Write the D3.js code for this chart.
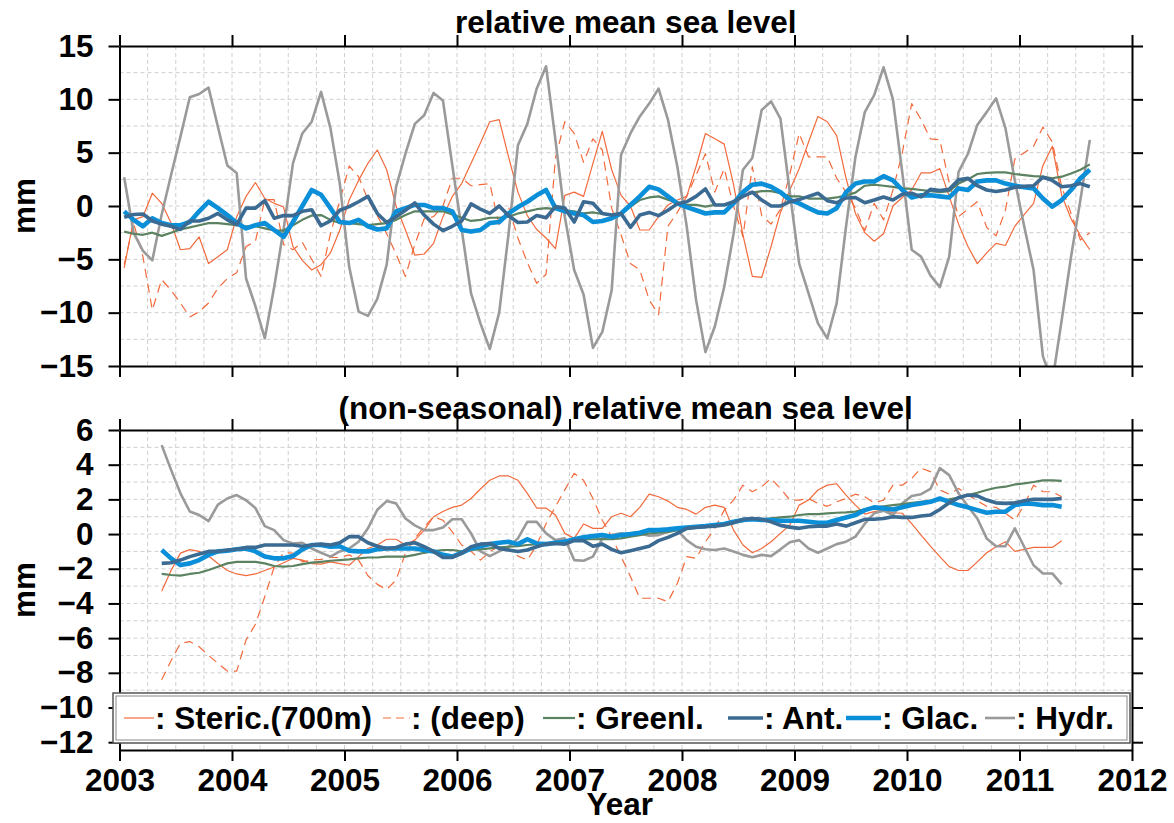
<!DOCTYPE html>
<html><head><meta charset="utf-8">
<script src="https://cdn.jsdelivr.net/npm/d3@7"></script>
<style>
body{margin:0;background:#fff}
svg text{font-family:"Liberation Sans",Arial,Helvetica,sans-serif;font-weight:bold;fill:#000}
</style></head><body><svg id="c" width="1174" height="823"></svg>
<script>
// ---------- data ----------
const years = [2003,2004,2005,2006,2007,2008,2009,2010,2011,2012];
const topTicks = [-15,-10,-5,0,5,10,15];
const botTicks = [-12,-10,-8,-6,-4,-2,0,2,4,6];
const seriesNames = ["Steric.(700m)","(deep)","Greenl.","Ant.","Glac.","Hydr."];
const topFirstMonth = 0;   // Jan 2003, monthly
const botFirstMonth = 4;   // May 2003, monthly

const stericTop = [-5.8,-1.3,-1.0,1.2,0.25,-1.6,-4.1,-4.0,-2.9,-5.4,-4.75,-4.1,
 -1.0,0.9,2.2,0.7,0.25,-0.1,-3.8,-5.1,-6.0,-5.5,-4.4,-2.25,
 0.56,2.4,4.0,5.25,3.4,0.0,-2.25,-4.6,-4.5,-3.5,-1.0,0.9,
 2.1,4.0,5.9,7.9,8.1,4.6,1.3,-0.9,-2.2,-3.0,-4.0,1.0,
 1.3,0.9,4.0,7.0,3.4,1.0,0.0,-2.25,-2.25,-1.0,0.1,0.56,
 0.9,3.7,6.8,6.3,5.8,2.0,-2.7,-6.6,-6.7,-3.8,-0.6,1.5,
 3.5,6.0,8.4,7.9,6.6,2.6,-0.7,-2.5,-3.3,-2.6,0.0,0.8,
 1.5,3.1,3.1,3.5,0.9,-1.7,-3.8,-5.4,-4.4,-3.5,-3.7,-1.9,
 -0.8,0.25,3.8,5.6,1.0,-1.2,-2.8,-4.1];
const deepTop = [-5.5,-1.6,-4.75,-9.75,-6.9,-7.9,-9.1,-10.4,-9.9,-9.1,-7.7,-6.8,
 -6.25,-3.8,-3.3,0.6,0.6,-3.6,-4.1,-3.4,-5.0,-6.6,-2.6,0.5,
 3.75,2.75,0.6,-0.9,-2.6,-4.5,-6.6,-3.6,-1.2,-1.0,0.0,2.6,
 2.6,1.9,2.0,2.1,-1.8,-0.1,-3.0,-5.3,-7.25,-6.4,4.5,7.9,
 6.8,4.1,6.3,5.25,-0.2,-2.7,-5.4,-6.0,-8.8,-10.2,-1.9,-0.6,
 0.9,2.9,4.9,1.3,3.5,0.0,-2.9,3.7,-0.9,-1.7,-0.3,3.0,
 6.8,4.6,4.6,4.6,2.6,1.3,-0.2,-2.3,0.25,-1.3,1.5,5.0,
 9.6,8.1,6.3,6.2,2.2,-1.0,-0.3,0.4,-2.0,-2.8,-0.4,4.4,
 5.0,5.6,7.4,6.0,1.8,-0.7,-3.2,-2.5];
const greenlTop = [-2.4,-2.6,-2.7,-2.5,-2.8,-2.5,-2.2,-2.0,-1.8,-1.6,-1.6,-1.7,
 -1.8,-1.9,-1.9,-2.1,-2.3,-2.3,-1.8,-1.3,-0.9,-0.85,-1.3,-1.6,
 -1.6,-1.7,-1.8,-1.7,-1.6,-1.3,-0.85,-0.5,-0.5,-0.5,-0.5,-0.8,
 -1.1,-1.4,-1.3,-1.1,-1.1,-1.0,-0.7,-0.5,-0.3,-0.2,-0.3,-0.4,
 -0.5,-0.7,-0.6,-0.75,-0.85,-0.7,-0.06,0.56,0.8,0.9,0.6,0.3,
 0.1,0.1,-0.06,0.1,0.1,0.3,0.9,1.25,1.4,1.4,1.2,0.9,
 0.9,0.7,0.7,0.7,0.8,1.0,1.25,1.9,2.0,1.9,1.8,1.65,
 1.6,1.5,1.4,1.3,1.4,2.1,2.5,3.0,3.1,3.15,3.15,3.0,
 2.9,2.8,2.75,2.6,2.75,3.05,3.4,3.9];
const antTop = [-1.06,-0.8,-0.75,-1.4,-1.7,-1.9,-2.2,-1.4,-1.4,-1.15,-0.7,-1.3,
 -1.75,-0.2,-0.2,0.5,-1.15,-0.9,-0.9,-0.5,-0.35,-1.85,-1.4,-0.4,
 -0.06,0.4,0.9,-0.7,-1.55,-1.0,-0.4,0.3,-0.85,-1.7,-2.3,-1.9,
 -1.4,0.2,-0.3,-0.7,0.0,-0.9,-1.55,-1.5,-0.9,-1.1,-0.06,-0.2,
 -1.5,0.4,0.25,-0.7,-0.85,-0.7,-2.0,-0.85,-0.6,-0.9,-0.4,0.2,
 0.4,0.9,1.6,0.1,0.1,0.4,0.9,1.3,0.56,0.0,0.0,0.4,
 0.6,0.9,1.2,0.5,0.3,0.75,0.8,0.3,0.56,0.85,0.56,1.1,
 1.2,0.85,1.56,1.45,1.56,2.45,2.6,1.9,1.5,1.35,1.5,1.75,
 1.85,1.9,2.7,2.4,1.8,1.9,2.1,1.8];
const glacTop = [-0.5,-1.3,-1.9,-1.15,-1.6,-1.8,-1.8,-1.5,-0.5,0.4,-0.2,-0.85,
 -1.6,-2.1,-1.8,-1.6,-2.25,-2.9,-1.5,0.0,1.5,1.05,-0.2,-1.5,
 -1.6,-1.3,-1.9,-2.2,-2.1,-0.5,-0.2,0.1,0.1,-0.2,-0.2,-0.5,
 -2.25,-2.4,-2.25,-1.6,-1.5,-0.7,-0.1,0.4,1.0,1.5,-0.2,-0.5,
 -0.7,-0.85,-1.5,-1.4,-1.15,-0.7,0.1,0.9,1.8,1.56,0.9,0.25,
 -0.1,-0.4,-0.7,-0.6,-0.6,0.25,1.3,2.0,2.1,1.8,1.3,0.56,
 0.25,-0.2,-0.6,-0.7,-0.2,1.3,2.1,2.3,2.3,2.8,2.4,1.5,
 0.8,1.0,1.0,0.9,0.8,1.65,1.5,2.3,2.4,2.4,2.1,1.9,
 1.75,1.65,0.7,-0.06,0.56,1.5,2.6,3.4];
const hydrTop = [2.7,-2.5,-4.2,-5.1,-0.8,2.9,6.5,10.2,10.5,11.1,7.4,3.8,
 3.1,-6.8,-9.4,-12.4,-7.6,-2.2,4.0,6.8,7.9,10.7,7.3,2.1,
 -5.7,-9.9,-10.3,-8.7,-5.5,1.8,4.9,7.7,8.5,10.6,9.9,3.8,
 -2.2,-8.2,-11,-13.4,-10,-2.6,5.7,7.7,11,13.1,6.2,-1,
 -6,-8.3,-13.3,-11.8,-7.9,4.8,6.8,8.4,9.6,11,8.1,3.7,
 -1.9,-8.8,-13.7,-11.3,-7.6,-2.6,3.4,4.5,9,9.8,8.2,1.3,
 -5.4,-8.2,-11,-12.4,-9.1,-1.9,4.6,8.8,10.4,13,10,3.1,
 -4.1,-4.75,-6.5,-7.6,-4.75,3.2,4.9,7.6,8.8,10.1,7.3,2.4,
 -1.9,-6,-14.1,-16.5,-10.7,-4.75,0.6,6.2];

const stericBot = [-3.3,-2.1,-1.1,-0.9,-1.0,-1.27,-1.7,-2.1,-2.3,-2.4,-2.3,-2.1,-1.9,-1.65,-1.4,-1.5,
 -1.7,-1.73,-1.6,-1.7,-1.8,-1.3,-0.83,-0.63,-0.3,-0.3,-0.63,-0.35,0.23,1.0,1.3,1.54,
 1.67,2.05,2.6,3.1,3.35,3.35,3.1,2.35,1.5,1.5,1.1,0.04,-0.25,0.58,0.33,0.33,1.0,1.2,1.0,1.54,
 2.3,2.15,1.9,1.54,1.42,1.15,1.54,1.67,1.54,0.23,-0.63,-1.08,-0.83,-0.44,0.04,0.52,
 1.67,1.96,2.54,2.82,2.9,2.25,1.67,1.15,1.29,1.38,1.23,1.2,0.6,-0.06,-0.7,-1.3,-1.88,-2.1,
 -2.1,-1.6,-1.08,-0.73,-0.44,-1.0,-0.88,-0.77,-0.77,-0.77,-0.38];
const deepBot = [-8.4,-7.3,-6.3,-6.2,-6.5,-7.0,-7.45,-7.9,-7.9,-6.1,-5.2,-3.6,-1.9,-1.08,-1.1,-1.6,
 -1.5,-1.46,-1.35,-1.35,-1.2,-1.5,-2.4,-2.9,-3.2,-2.65,-1.1,-0.25,0.42,1.0,0.8,0.13,
 -0.63,-1.0,-1.5,-1.0,-0.7,-0.83,-1.27,-1.5,-0.63,0.6,1.58,2.55,3.5,3.1,2.05,0.8,-0.15,-1.3,
 -2.45,-3.7,-3.7,-3.7,-3.9,-2.85,-1.3,-1.4,-0.44,0.33,1.38,1.96,2.82,2.44,2.73,3.2,2.63,1.96,
 1.96,2.05,1.77,1.6,1.86,2.05,2.3,2.15,1.8,1.96,2.82,2.82,3.2,3.8,3.6,2.54,2.3,2.63,2.25,
 1.92,1.6,1.54,1.2,0.8,1.67,2.82,2.44,2.44,2.15];
const greenlBot = [-2.3,-2.36,-2.4,-2.3,-2.23,-2.07,-1.88,-1.69,-1.6,-1.6,-1.6,-1.69,-1.84,-1.88,-1.84,-1.73,
 -1.65,-1.6,-1.54,-1.5,-1.46,-1.4,-1.35,-1.35,-1.3,-1.3,-1.3,-1.2,-1.08,-0.98,-0.92,-0.92,
 -1.0,-0.92,-0.88,-0.83,-0.77,-0.73,-0.7,-0.63,-0.58,-0.54,-0.5,-0.44,-0.38,-0.3,-0.3,-0.29,
 -0.3,-0.25,-0.15,-0.06,0.04,0.08,0.13,0.23,0.33,0.38,0.46,0.52,0.58,0.65,0.75,0.85,0.85,0.9,0.96,1.0,
 1.1,1.15,1.15,1.19,1.23,1.25,1.29,1.42,1.54,1.6,1.67,1.73,1.8,1.86,1.92,1.96,2.0,2.1,2.25,
 2.38,2.54,2.67,2.73,2.86,2.92,3.0,3.1,3.1,3.07];
const antBot = [-1.69,-1.65,-1.5,-1.3,-1.15,-1.0,-1.0,-0.92,-0.88,-0.77,-0.77,-0.63,-0.63,-0.63,-0.63,-0.7,
 -0.63,-0.58,-0.63,-0.5,-0.15,-0.15,-0.5,-0.7,-0.83,-0.77,-0.58,-0.5,-0.73,-1.0,-1.35,-1.35,
 -1.1,-0.73,-0.58,-0.54,-0.83,-0.92,-1.0,-0.92,-0.73,-0.58,-0.54,-0.58,-0.38,-0.38,-0.7,-0.58,
 -0.88,-1.08,-0.96,-0.83,-0.7,-0.38,-0.19,0.04,0.33,0.38,0.42,0.46,0.52,0.65,0.85,0.9,0.85,0.71,0.5,0.4,
 0.33,0.42,0.46,0.46,0.58,0.46,0.65,0.85,0.85,0.9,1.0,0.96,0.96,1.04,1.1,1.42,1.8,2.1,2.25,
 2.2,1.96,1.8,1.77,1.8,1.92,2.0,2.0,2.0,2.05];
const glacBot = [-0.92,-1.4,-1.79,-1.69,-1.5,-1.2,-1.0,-0.96,-0.88,-0.83,-1.0,-1.3,-1.4,-1.4,-1.27,-0.88,
 -0.63,-0.63,-0.73,-0.7,-0.96,-1.0,-1.0,-0.88,-0.83,-0.83,-0.83,-0.83,-0.92,-1.0,-1.2,-1.3,
 -1.08,-0.83,-0.7,-0.58,-0.5,-0.44,-0.58,-0.3,-0.54,-0.58,-0.5,-0.44,-0.3,-0.19,-0.12,-0.06,
 -0.15,-0.06,0.0,0.08,0.23,0.23,0.27,0.33,0.38,0.42,0.46,0.52,0.58,0.71,0.81,0.85,0.81,0.81,0.77,0.77,
 0.77,0.71,0.65,0.65,0.81,0.96,1.1,1.38,1.54,1.48,1.42,1.54,1.67,1.77,1.86,2.05,1.86,1.67,1.54,
 1.38,1.23,1.29,1.29,1.67,1.77,1.73,1.67,1.67,1.58];
const hydrBot = [5.13,3.7,2.35,1.3,1.1,0.75,1.7,2.05,2.25,1.95,1.5,0.46,0.23,-0.35,-0.54,-0.5,
 -0.83,-1.08,-1.3,-1.0,-0.83,-0.44,0.33,1.4,1.9,1.77,0.9,0.5,0.23,0.23,0.38,0.85,
 0.85,0.04,-1.0,-1.27,-1.0,-0.73,-0.25,0.7,0.7,0.04,-0.35,-0.25,-1.5,-1.54,-1.3,-0.25,
 -0.06,0.04,-0.06,0.04,-0.1,-0.06,0.13,0.23,-0.35,-0.73,-0.88,-0.92,-0.83,-1.0,-1.2,-1.34,-1.2,-1.27,-0.88,-0.47,
 -0.35,-0.83,-1.08,-0.83,-0.58,-0.44,-0.15,0.6,1.2,1.35,1.1,1.77,2.2,2.3,2.6,3.8,3.4,2.35,1.6,
 0.9,-0.25,-0.7,-0.7,0.33,-0.73,-1.8,-2.27,-2.27,-2.9];

// ---------- styles ----------
const styles = [
  {color:"#f26a3c", width:1.2, dash:null},
  {color:"#f26a3c", width:1.2, dash:"9,6"},
  {color:"#5b8261", width:2.2, dash:null},
  {color:"#3b6a92", width:3.6, dash:null},
  {color:"#0b8fd8", width:4.6, dash:null},
  {color:"#9a9a9a", width:2.6, dash:null}
];
const drawOrder = [0,1,5,2,4,3];
const FS = 31.5;

const svg = d3.select("#c");
const X0 = 119.5, X1 = 1132;
const x = d3.scaleLinear().domain([2003,2012]).range([X0,X1]);
const panels = [
  {y:d3.scaleLinear().domain([-15,15]).range([366,46]), ticks:topTicks, gridStep:2.5,
   series:[stericTop,deepTop,greenlTop,antTop,glacTop,hydrTop], first:topFirstMonth,
   title:"relative mean sea level", titleY:33, xlabels:false},
  {y:d3.scaleLinear().domain([-12.45,6]).range([750,430]), ticks:botTicks, gridStep:1,
   series:[stericBot,deepBot,greenlBot,antBot,glacBot,hydrBot], first:botFirstMonth,
   title:"(non-seasonal) relative mean sea level", titleY:419, xlabels:true}
];

panels.forEach((p,pi)=>{
  const [yb, yt] = p.y.range();
  const g = svg.append("g");
  svg.append("clipPath").attr("id","clip"+pi).append("rect")
    .attr("x",X0).attr("y",yt).attr("width",X1-X0).attr("height",yb-yt);
  // grid
  const grid = g.append("g").attr("stroke","#cfcfcf").attr("stroke-width",1).attr("stroke-dasharray","4,3");
  const vq = d3.range(2003.25, 2012, 0.25);
  grid.selectAll("line.v").data(vq).join("line")
    .attr("x1",d=>x(d)).attr("x2",d=>x(d)).attr("y1",yt).attr("y2",yb);
  const [d0,d1] = p.y.domain();
  const hq = d3.range(Math.ceil(d0/p.gridStep)*p.gridStep, d1+1e-9, p.gridStep).filter(v=>v>d0+1e-6 && v<d1-1e-6);
  grid.selectAll("line.h").data(hq).join("line")
    .attr("y1",d=>p.y(d)).attr("y2",d=>p.y(d)).attr("x1",X0).attr("x2",X1);
  // lines
  const lg = g.append("g").attr("clip-path",`url(#clip${pi})`);
  drawOrder.forEach(si=>{
    const vals = p.series[si];
    const st = styles[si];
    const line = d3.line().x((v,k)=>x(2003 + (p.first + k + 0.5)/12)).y(v=>p.y(v));
    lg.append("path").attr("d", line(vals)).attr("fill","none")
      .attr("stroke",st.color).attr("stroke-width",st.width)
      .attr("stroke-linejoin","round")
      .attr("stroke-dasharray",st.dash);
  });
  // axes
  const fmt = d3.format("d");
  const ax = [
    {a:d3.axisBottom(x).tickValues(years).tickSize(11).tickSizeOuter(0).tickPadding(8).tickFormat(p.xlabels?fmt:""), t:`translate(0,${yb})`},
    {a:d3.axisTop(x).tickValues(years).tickSize(11).tickSizeOuter(0).tickFormat(""), t:`translate(0,${yt})`},
    {a:d3.axisLeft(p.y).tickValues(p.ticks).tickSize(11).tickSizeOuter(0).tickPadding(15).tickFormat(d3.format("d")), t:`translate(${X0},0)`},
    {a:d3.axisRight(p.y).tickValues(p.ticks).tickSize(11).tickSizeOuter(0).tickFormat(""), t:`translate(${X1},0)`}
  ];
  ax.forEach(o=>{
    const ag = svg.append("g").attr("transform",o.t).call(o.a);
    ag.selectAll("path.domain").attr("stroke","#000").attr("stroke-width",2);
    ag.selectAll(".tick line").attr("stroke","#000").attr("stroke-width",2);
    ag.selectAll("text").attr("font-size",FS).attr("font-family",null).attr("fill","#000");
  });
  // title
  svg.append("text").attr("x",(X0+X1)/2).attr("y",p.titleY).attr("text-anchor","middle")
    .attr("font-size",FS).text(p.title);
  // y label
  svg.append("text").attr("transform",`translate(35,${(yb+yt)/2}) rotate(-90)`)
    .attr("text-anchor","middle").attr("font-size",FS).text("mm");
});

// x label
svg.append("text").attr("x",(X0+X1)/2-6).attr("y",815).attr("text-anchor","middle")
  .attr("font-size",FS).text("Year");

// legend
const LX = 113, LY = 693, LW = 1017, LH = 50;
const leg = svg.append("g");
leg.append("rect").attr("x",LX).attr("y",LY).attr("width",LW).attr("height",LH)
  .attr("fill","#fff").attr("stroke","#555").attr("stroke-width",1.5);
leg.append("rect").attr("x",LX+3).attr("y",LY+3).attr("width",LW-6).attr("height",LH-6)
  .attr("fill","none").attr("stroke","#888").attr("stroke-width",1);
const legCols = [124, 383, 543, 728, 846, 985];
const legLen = [30, 27, 32, 35, 35, 30];
seriesNames.forEach((name,i)=>{
  const st = styles[i];
  const cx = legCols[i], cy = 718;
  leg.append("line").attr("x1",cx).attr("x2",cx+legLen[i]).attr("y1",cy).attr("y2",cy)
    .attr("stroke",st.color).attr("stroke-width",st.width).attr("stroke-dasharray",st.dash?"8,5":null);
  leg.append("text").attr("x",cx+legLen[i]+1).attr("y",729).attr("font-size",FS).text(": "+name);
});
</script></body></html>
